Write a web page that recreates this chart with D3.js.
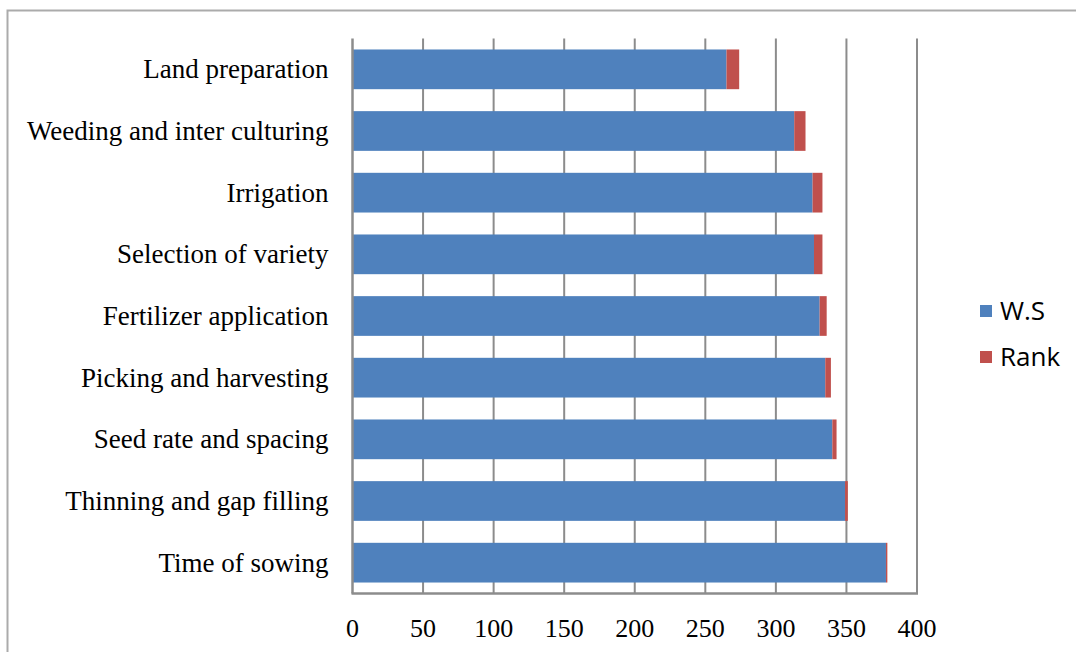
<!DOCTYPE html>
<html>
<head>
<meta charset="utf-8">
<script src="https://cdn.jsdelivr.net/npm/d3@7"></script>
<style>
  html, body { margin: 0; padding: 0; background: #fff; }
  svg { display: block; }
</style>
</head>
<body>
<svg id="chart" width="1076" height="652"></svg>
<script>
// Practices, top to bottom
const categories = [
  "Land preparation",
  "Weeding and inter culturing",
  "Irrigation",
  "Selection of variety",
  "Fertilizer application",
  "Picking and harvesting",
  "Seed rate and spacing",
  "Thinning and gap filling",
  "Time of sowing"
];
// Weighted score per practice
const wsValues = [265, 313, 326, 327, 331, 335, 340, 349, 378];
// Rank per practice
const rankValues = [9, 8, 7, 6, 5, 4, 3, 2, 1];
const xTicks = [0, 50, 100, 150, 200, 250, 300, 350, 400];
const seriesNames = ["W.S", "Rank"];
const seriesColors = ["#4F81BD", "#C0504D"];

const svg = d3.select("#chart");

// Outer frame
svg.append("rect")
  .attr("x", 7.5).attr("y", 10.5)
  .attr("width", 1100).attr("height", 700)
  .attr("fill", "none").attr("stroke", "#ababab").attr("stroke-width", 2);

const plot = { left: 352.5, right: 917, top: 38.5, bottom: 593.5 };

const x = d3.scaleLinear().domain([0, 400]).range([plot.left, plot.right]);
const y = d3.scaleBand().domain(categories)
  .range([plot.top, plot.bottom])
  .paddingInner(0.356).paddingOuter(0.178);

const rows = categories.map((c, i) => ({ cat: c, ws: wsValues[i], rank: rankValues[i] }));
const stacked = d3.stack().keys(["ws", "rank"])(rows);

// Vertical gridlines
svg.append("g")
  .selectAll("line")
  .data(xTicks.filter(t => t > 0))
  .join("line")
  .attr("x1", d => x(d)).attr("x2", d => x(d))
  .attr("y1", plot.top).attr("y2", plot.bottom)
  .attr("stroke", "#8c8c8c").attr("stroke-width", 2);

// Stacked bars
svg.append("g")
  .selectAll("g")
  .data(stacked)
  .join("g")
  .attr("fill", (d, i) => seriesColors[i])
  .selectAll("rect")
  .data(d => d)
  .join("rect")
  .attr("x", d => x(d[0]))
  .attr("width", d => x(d[1]) - x(d[0]))
  .attr("y", d => y(d.data.cat))
  .attr("height", y.bandwidth());

// Axes lines
svg.append("line")
  .attr("x1", plot.left).attr("x2", plot.left)
  .attr("y1", plot.top).attr("y2", plot.bottom)
  .attr("stroke", "#8c8c8c").attr("stroke-width", 2.5);
svg.append("line")
  .attr("x1", plot.left - 1).attr("x2", plot.right + 1)
  .attr("y1", plot.bottom).attr("y2", plot.bottom)
  .attr("stroke", "#8c8c8c").attr("stroke-width", 2.5);

// Bottom tick labels
svg.append("g")
  .selectAll("text")
  .data(xTicks)
  .join("text")
  .attr("x", d => x(d))
  .attr("y", 637)
  .attr("text-anchor", "middle")
  .attr("font-family", "'Liberation Serif', 'Times New Roman', serif")
  .attr("font-size", 26)
  .attr("fill", "#000")
  .text(d => d);

// Category labels
svg.append("g")
  .selectAll("text")
  .data(categories)
  .join("text")
  .attr("x", plot.left - 24)
  .attr("y", d => y(d) + y.bandwidth() / 2)
  .attr("dy", "0.33em")
  .attr("text-anchor", "end")
  .attr("font-family", "'Liberation Serif', 'Times New Roman', serif")
  .attr("font-size", 27)
  .attr("fill", "#000")
  .text(d => d);

// Legend
const legend = svg.append("g")
  .selectAll("g")
  .data(seriesNames)
  .join("g")
  .attr("transform", (d, i) => `translate(980, ${311 + i * 46})`);
legend.append("rect")
  .attr("x", 0).attr("y", -6)
  .attr("width", 12).attr("height", 12)
  .attr("fill", (d, i) => seriesColors[i]);
legend.append("text")
  .attr("x", 20).attr("y", 0)
  .attr("dy", "0.36em")
  .attr("font-family", "'Open Sans', 'Liberation Sans', sans-serif")
  .attr("font-size", 26)
  .attr("fill", "#000")
  .text(d => d);
</script>
</body>
</html>
